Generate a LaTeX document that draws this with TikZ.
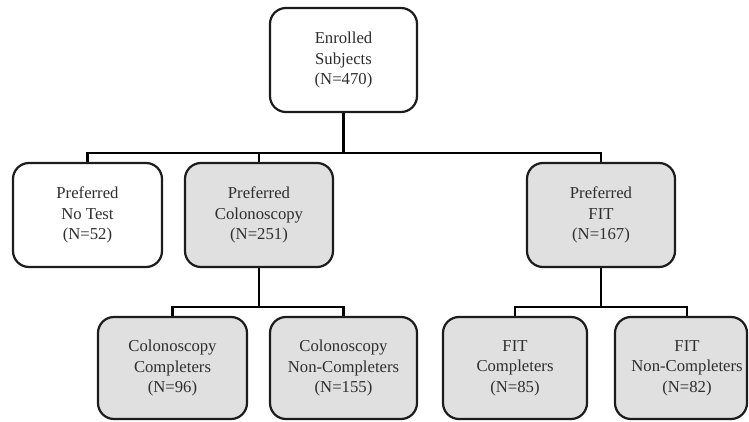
\documentclass[tikz,border=0pt]{standalone}
\usepackage{fontspec}
\setmainfont{Liberation Serif}
\definecolor{boxgray}{HTML}{E0E0E0}
\definecolor{edge}{HTML}{1C1C1C}
\definecolor{txt}{HTML}{2E2E2E}
\begin{document}
\begin{tikzpicture}[x=1pt,y=-1pt,
  box/.style={draw=edge, line width=2.2pt, rounded corners=16pt, align=center,
    font=\fontsize{16.7}{20.5}\selectfont, text=txt, inner sep=0pt},
  wbox/.style={box, fill=white},
  gbox/.style={box, fill=boxgray},
  lbl/.style={align=center, font=\fontsize{16.7}{20.5}\selectfont, text=txt, inner sep=0pt},
  conn/.style={draw=black, line width=2.2pt}]
\useasboundingbox (0,0) rectangle (749,422);
% top
\node[wbox, minimum width=147pt, minimum height=104pt] (top) at (343.5,60) {Enrolled\\Subjects\\(N=470)};
% row 2
\node[wbox, minimum width=149pt, minimum height=104pt] (notest) at (87.5,215) {Preferred\\No Test\\(N=52)};
\node[gbox, minimum width=148pt, minimum height=104pt] (colo) at (259,215) {Preferred\\Colonoscopy\\(N=251)};
\node[gbox, minimum width=148pt, minimum height=104pt] (fit) at (601,215) {Preferred\\FIT\\(N=167)};
% row 3
\node[gbox, minimum width=149pt, minimum height=102pt] (cc) at (172.5,368) {Colonoscopy\\Completers\\(N=96)};
\node[gbox, minimum width=147pt, minimum height=102pt] (cnc) at (343.5,368) {Colonoscopy\\Non-Completers\\(N=155)};
\node[gbox, minimum width=144pt, minimum height=102pt] (fc) at (515,368) {FIT\\Completers\\(N=85)};
\node[gbox, minimum width=132pt, minimum height=102pt] (fnc) at (681,368) {};
\node[lbl] (fnct) at (687,368) {FIT\\Non-Completers\\(N=82)};
% bars
\coordinate (b1) at (343.5,153);
\coordinate (b2) at (259,307);
\coordinate (b3) at (601,307);
\draw[conn] (top.south) -- (b1);
\draw[conn] (notest.north) |- (b1);
\draw[conn] (colo.north) -- (colo.north |- b1);
\draw[conn] (fit.north) |- (b1);
\draw[conn] (colo.south) -- (b2);
\draw[conn] (cc.north) |- (b2);
\draw[conn] (cnc.north) |- (b2);
\draw[conn] (fit.south) -- (b3);
\draw[conn] (fc.north) |- (b3);
\draw[conn] (fnct |- fnc.north) |- (b3);
\end{tikzpicture}
\end{document}
